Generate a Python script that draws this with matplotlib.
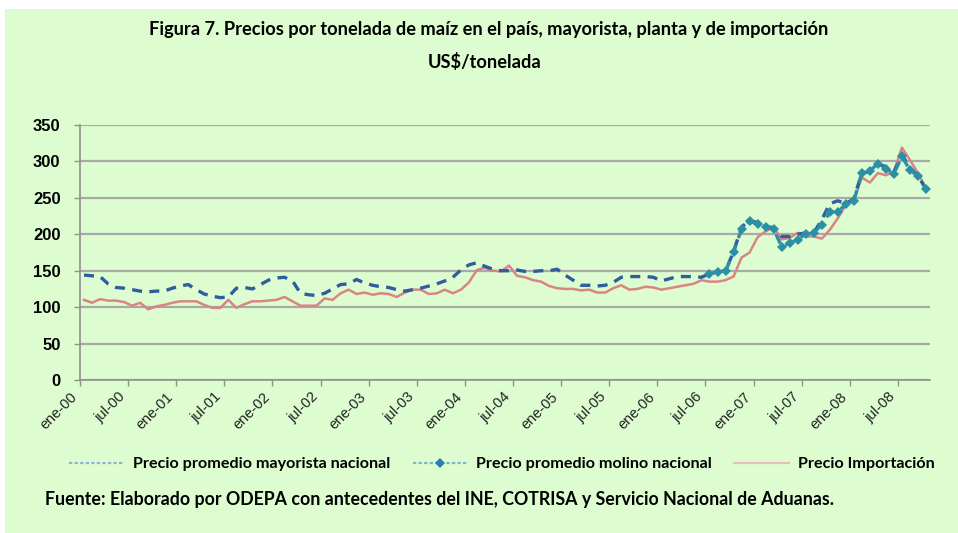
import matplotlib
matplotlib.use("Agg")
import matplotlib.pyplot as plt
import matplotlib.transforms as mtransforms
from matplotlib import font_manager
from matplotlib.lines import Line2D
from matplotlib.patches import Rectangle
import numpy as np

# monthly prices, US$/tonelada, ene-2000 .. oct-2008
mayorista = [144, 143, 142, 132, 127, 126, 124, 122, 121, 122,
             122, 126, 129, 131, 124, 118, 115, 113, 114, 126,
             127, 125, 131, 137, 140, 141, 136, 119, 117, 116,
             119, 125, 131, 132, 138, 133, 130, 128, 127, 124,
             122, 124, 126, 129, 132, 136, 141, 151, 158, 161,
             156, 152, 150, 150, 151, 149, 149, 150, 150, 152,
             144, 137, 130, 130, 129, 130, 134, 141, 142, 142,
             142, 141, 136, 139, 142, 142, 142, 141, 146, 148,
             150, 176, 210, 219, 216, 211, 209, 197, 197, 200,
             202, 202, 220, 242, 246, 242, 249, 284, 286, 296,
             293, 286, 309, 291, 280, 262]

# molino series starts jul-06
molino_start = 78
molino = [146, 148, 149, 176, 207, 218, 214, 210, 207, 183,
          188, 192, 201, 202, 213, 230, 231, 241, 246, 284,
          287, 297, 290, 283, 307, 288, 280, 262]

importacion = [110, 106, 111, 109, 109, 107, 102, 106, 97, 101,
               103, 106, 108, 108, 108, 103, 99, 99, 110, 99,
               104, 108, 108, 109, 110, 114, 108, 102, 102, 102,
               112, 110, 119, 124, 118, 120, 117, 119, 118, 114,
               120, 124, 124, 118, 119, 124, 119, 124, 134, 151,
               154, 150, 149, 157, 143, 141, 137, 135, 129, 126,
               125, 125, 123, 124, 120, 120, 126, 130, 124, 125,
               128, 127, 124, 126, 128, 130, 132, 137, 135, 135,
               137, 142, 168, 175, 196, 204, 210, 193, 195, 202,
               197, 197, 194, 206, 222, 240, 246, 278, 271, 284,
               281, 286, 319, 302, 284, 263]

tick_labels = ["ene-00", "jul-00", "ene-01", "jul-01", "ene-02", "jul-02",
               "ene-03", "jul-03", "ene-04", "jul-04", "ene-05", "jul-05",
               "ene-06", "jul-06", "ene-07", "jul-07", "ene-08", "jul-08"]

series_names = ["Precio promedio mayorista nacional",
                "Precio promedio molino nacional",
                "Precio Importación"]

BG = "#ddfdd0"
GRID = "#a9a9a9"
C_MAY = "#2f5d9e"
C_MOL = "#2b8fa5"
C_IMP = "#d98585"

names = {f.name for f in font_manager.fontManager.ttflist}
FONT = "Liberation Sans Narrow" if "Liberation Sans Narrow" in names else "Lato"
WEIGHT = "bold"


def fit_width(txt, target_px, renderer):
    # scale font size so the text spans target_px horizontally
    w = txt.get_window_extent(renderer).width
    txt.set_fontsize(txt.get_fontsize() * target_px / w)


fig = plt.figure(figsize=(9.58, 5.33), dpi=100)
fig.patch.set_facecolor("white")
fig.patches.append(Rectangle((5 / 958, 0), 1, 1 - 9 / 533, transform=fig.transFigure,
                             facecolor=BG, edgecolor="none", zorder=-10))

ax = fig.add_axes([80 / 958, 1 - 380 / 533, 850 / 958, 255 / 533])
ax.patch.set_alpha(0)

x = np.arange(len(mayorista))
x_mol = np.arange(molino_start, molino_start + len(molino))

ax.plot(x, importacion, color=C_IMP, lw=1.8, zorder=3)
ax.plot(x, mayorista, color=C_MAY, lw=2.4, ls=(0, (3, 2.2)), zorder=4)
ax.plot(x_mol, molino, color=C_MOL, lw=2.4, ls=(0, (3, 2.2)), marker="D",
        markersize=5.5, markeredgewidth=0, zorder=5)

ax.set_xlim(-0.5, len(mayorista) - 0.5)
ax.set_ylim(0, 350)
ax.set_yticks(range(0, 351, 50))
ax.yaxis.grid(True, color=GRID, lw=1.6)
ax.set_axisbelow(True)

ax.set_xticks(np.arange(len(tick_labels)) * 6 - 0.5)
ax.set_xticklabels(tick_labels, rotation=45, ha="right", va="top",
                   fontsize=10.5, family="Liberation Sans", color="#222222")
offset = mtransforms.ScaledTranslation(8 / 100, -9 / 100, fig.dpi_scale_trans)
for lab in ax.get_xticklabels():
    lab.set_transform(lab.get_transform() + offset)

for lab in ax.get_yticklabels():
    lab.set_fontsize(12)
    lab.set_fontweight("bold")
    lab.set_family("Liberation Sans")

ax.tick_params(axis="both", length=4, width=1, color="#909090", pad=3)
ax.tick_params(axis="y", pad=10)
for side in ["top", "right"]:
    ax.spines[side].set_visible(False)
for side in ["left", "bottom"]:
    ax.spines[side].set_color("#909090")
    ax.spines[side].set_linewidth(1.2)

title = fig.text(489 / 958, 1 - 30 / 533,
                 "Figura 7. Precios por tonelada de maíz en el país, mayorista, planta y de importación",
                 ha="center", va="center", fontsize=12.5, family=FONT, fontweight=WEIGHT)
subtitle = fig.text(485 / 958, 1 - 62 / 533, "US$/tonelada", ha="center", va="center",
                    fontsize=12.5, family=FONT, fontweight=WEIGHT)
source = fig.text(45 / 958, 1 - 500 / 533,
                  "Fuente: Elaborado por ODEPA con antecedentes del INE, COTRISA y Servicio Nacional de Aduanas.",
                  ha="left", va="center", fontsize=12.5, family=FONT, fontweight=WEIGHT)

renderer = fig.canvas.get_renderer()
fit_width(title, 682, renderer)
subtitle.set_fontsize(title.get_fontsize())
fit_width(source, 790, renderer)

handles = [
    Line2D([0, 1], [0, 0], color="#8fb2dc", lw=1.6, ls=(0, (1.5, 1))),
    Line2D([0, 0.5, 1], [0, 0, 0], color="#7fb3d0", lw=1.6, ls=(0, (1.5, 1)), marker="D",
           markersize=5, markerfacecolor="#2b7fb0", markeredgewidth=0, markevery=[1]),
    Line2D([0, 1], [0, 0], color="#f0baba", lw=1.6),
]
leg_size = 12.5
for _ in range(3):
    leg = fig.legend(handles, series_names, ncol=3, loc="center left",
                     bbox_to_anchor=(58 / 958, 1 - 464 / 533), frameon=False,
                     handlelength=3.4, handletextpad=0.55, columnspacing=1.4,
                     borderpad=0.2,
                     prop=font_manager.FontProperties(size=leg_size, weight=WEIGHT, family=FONT))
    w = leg.get_window_extent(renderer).width
    if abs(w - 872) < 3:
        break
    leg_size *= 872 / w
    leg.remove()

fig.savefig("out.png", dpi=100, facecolor=fig.get_facecolor())
